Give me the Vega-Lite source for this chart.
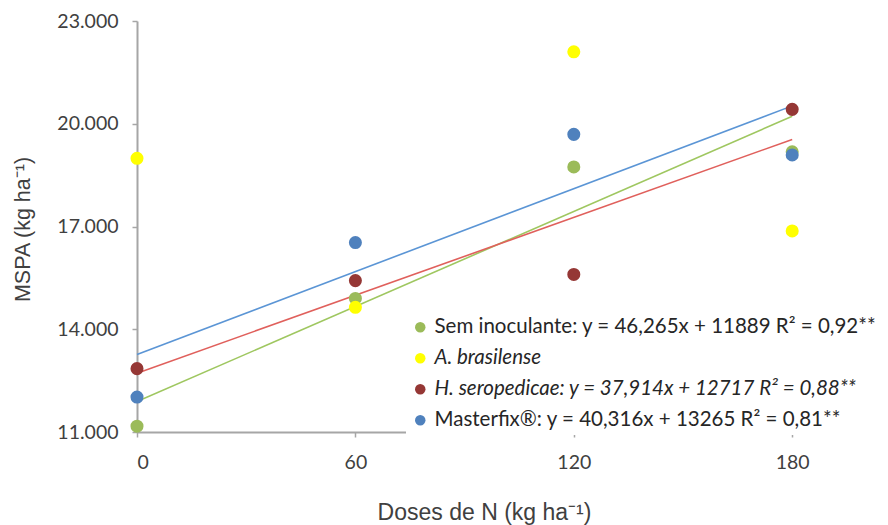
{
  "$schema": "https://vega.github.io/schema/vega-lite/v6.json",
  "autosize": "none",
  "width": 728,
  "height": 411,
  "padding": {"left": 137, "top": 21, "right": 23, "bottom": 93},
  "background": "white",
  "config": {
    "view": {"stroke": null},
    "font": "Lato",
    "axis": {
      "domainColor": "#A6A6A6",
      "domainWidth": 2,
      "tickColor": "#A6A6A6",
      "tickWidth": 1.5,
      "tickSize": 5,
      "labelColor": "#404040",
      "labelFont": "Lato",
      "labelFontSize": 19.5,
      "titleColor": "#404040",
      "titleFont": "Liberation Sans",
      "titleFontSize": 21,
      "titleFontWeight": "normal",
      "grid": false
    }
  },
  "resolve": {"scale": {"color": "independent"}},
  "datasets": {
    "pontos": [
      {"dose": 0, "mspa": 11170, "trat": "Sem inoculante: y = 46,265x + 11889 R² = 0,92**"},
      {"dose": 60, "mspa": 14900, "trat": "Sem inoculante: y = 46,265x + 11889 R² = 0,92**"},
      {"dose": 120, "mspa": 18740, "trat": "Sem inoculante: y = 46,265x + 11889 R² = 0,92**"},
      {"dose": 180, "mspa": 19180, "trat": "Sem inoculante: y = 46,265x + 11889 R² = 0,92**"},
      {"dose": 0, "mspa": 18990, "trat": "A. brasilense"},
      {"dose": 60, "mspa": 14640, "trat": "A. brasilense"},
      {"dose": 120, "mspa": 22100, "trat": "A. brasilense"},
      {"dose": 180, "mspa": 16870, "trat": "A. brasilense"},
      {"dose": 0, "mspa": 12850, "trat": "H. seropedicae: y = 37,914x + 12717 R² = 0,88**"},
      {"dose": 60, "mspa": 15420, "trat": "H. seropedicae: y = 37,914x + 12717 R² = 0,88**"},
      {"dose": 120, "mspa": 15600, "trat": "H. seropedicae: y = 37,914x + 12717 R² = 0,88**"},
      {"dose": 180, "mspa": 20420, "trat": "H. seropedicae: y = 37,914x + 12717 R² = 0,88**"},
      {"dose": 0, "mspa": 12020, "trat": "Masterfix®: y = 40,316x + 13265 R² = 0,81**"},
      {"dose": 60, "mspa": 16530, "trat": "Masterfix®: y = 40,316x + 13265 R² = 0,81**"},
      {"dose": 120, "mspa": 19690, "trat": "Masterfix®: y = 40,316x + 13265 R² = 0,81**"},
      {"dose": 180, "mspa": 19090, "trat": "Masterfix®: y = 40,316x + 13265 R² = 0,81**"}
    ],
    "ajustes": [
      {"dose": 0, "mspa": 11889, "linha": "Sem inoculante"},
      {"dose": 180, "mspa": 20216.7, "linha": "Sem inoculante"},
      {"dose": 0, "mspa": 12717, "linha": "H. seropedicae"},
      {"dose": 180, "mspa": 19541.5, "linha": "H. seropedicae"},
      {"dose": 0, "mspa": 13265, "linha": "Masterfix"},
      {"dose": 180, "mspa": 20521.9, "linha": "Masterfix"}
    ]
  },
  "layer": [
    {
      "data": {"name": "ajustes"},
      "mark": {"type": "line", "strokeWidth": 1.6, "clip": false},
      "encoding": {
        "x": {"field": "dose", "type": "quantitative"},
        "y": {"field": "mspa", "type": "quantitative"},
        "detail": {"field": "linha"},
        "color": {
          "field": "linha",
          "type": "nominal",
          "scale": {
            "domain": ["Sem inoculante", "H. seropedicae", "Masterfix"],
            "range": ["#9FC760", "#E0605C", "#5B95D5"]
          },
          "legend": null
        }
      }
    },
    {
      "data": {"name": "pontos"},
      "mark": {"type": "circle", "size": 170, "opacity": 1, "clip": false},
      "encoding": {
        "x": {
          "field": "dose",
          "type": "quantitative",
          "scale": {"domain": [0, 200], "nice": false, "zero": false},
          "axis": {
            "values": [0, 60, 120, 180],
            "title": "Doses de N (kg ha⁻¹)",
            "titleFontSize": 23,
            "titleX": 347,
            "labelPadding": 16,
            "titlePadding": 30
          }
        },
        "y": {
          "field": "mspa",
          "type": "quantitative",
          "scale": {"domain": [11000, 23000], "nice": false, "zero": false},
          "axis": {
            "values": [11000, 14000, 17000, 20000, 23000],
            "labelExpr": "replace(format(datum.value, ','), ',', '.')",
            "title": "MSPA (kg ha⁻¹)",
            "titleY": 208,
            "titleFontSize": 21.5,
            "labelPadding": 14,
            "titlePadding": 22
          }
        },
        "color": {
          "field": "trat",
          "type": "nominal",
          "scale": {
            "domain": [
              "Sem inoculante: y = 46,265x + 11889 R² = 0,92**",
              "A. brasilense",
              "H. seropedicae: y = 37,914x + 12717 R² = 0,88**",
              "Masterfix®: y = 40,316x + 13265 R² = 0,81**"
            ],
            "range": ["#9BBB59", "#FFFF00", "#953735", "#4F81BD"]
          },
          "legend": {
            "title": null,
            "orient": "none",
            "legendX": 269,
            "legendY": 292,
            "symbolType": "circle",
            "symbolSize": 110,
            "symbolStrokeWidth": 0,
            "labelFont": "Lato",
            "labelFontSize": 20.5,
            "labelColor": "#262626",
            "labelLimit": 620,
            "rowPadding": 10,
            "labelOffset": 4,
            "fillColor": "white",
            "padding": 4,
            "labelFontStyle": {"expr": "datum.label == 'A. brasilense' || indexof(datum.label, 'H. ') == 0 ? 'italic' : 'normal'"}
          }
        }
      }
    }
  ]
}
